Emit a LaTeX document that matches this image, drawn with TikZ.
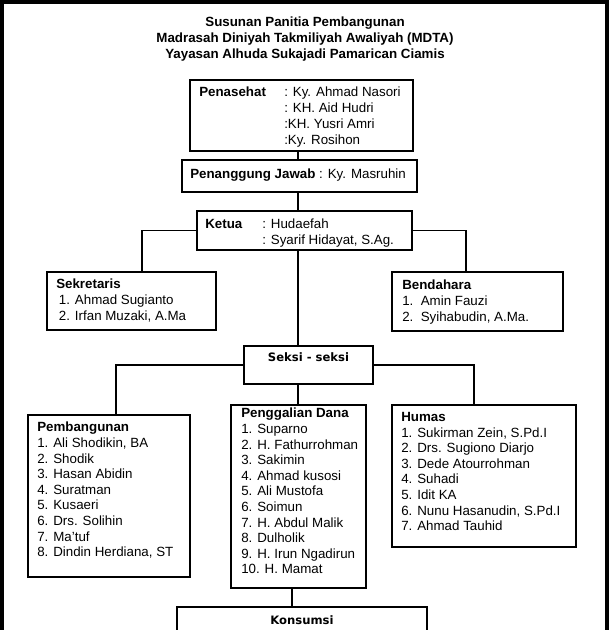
\documentclass[tikz,border=0pt]{standalone}
\usepackage{fontspec}
\setmainfont{Liberation Sans}
\newfontfamily\dvsans{DejaVu Sans}
\usetikzlibrary{fit,calc}
\begin{document}
\begin{tikzpicture}[x=0.75pt,y=-0.75pt,
  box/.style={draw,line width=0.8pt,inner sep=0pt},
  txt/.style={inner sep=0pt,anchor=north west,align=left,font=\fontsize{10}{11.7}\selectfont},
  txtw/.style={inner sep=0pt,anchor=north west,align=left,font=\fontsize{10}{12}\selectfont},
  ttl/.style={inner sep=0pt,anchor=north,align=center,font=\bfseries\fontsize{10}{12}\selectfont},
  dv/.style={inner sep=0pt,font=\dvsans\bfseries\fontsize{8.7}{10}\selectfont},
  conn/.style={line width=0.8pt}]
\useasboundingbox (0,0) rectangle (609,630);
\fill[black] (0,0) rectangle (609,630);
\fill[white] (4,4) rectangle (605,640);

% axis coordinates for connectors
\coordinate (axis) at (298,0);
\coordinate (sekx) at (142,0);
\coordinate (benx) at (466,0);
\coordinate (pembx) at (116,0);
\coordinate (humx) at (474,0);
\coordinate (konx) at (292,0);

% title
\node[ttl] (title) at (305,17) {Susunan Panitia Pembangunan\\Madrasah Diniyah Takmiliyah Awaliyah (MDTA)\\Yayasan Alhuda Sukajadi Pamarican Ciamis};

% boxes
\node[box,fit={(190,80) (413,151)}] (pen) {};
\node[box,fit={(182,160) (417,192)}] (pj) {};
\node[box,fit={(197,211) (412,250)}] (ket) {};
\node[box,fit={(47,272) (216,330)}] (sek) {};
\node[box,fit={(392,272) (563,331)}] (ben) {};
\node[box,fit={(244,346) (373,384)}] (seksi) {};
\node[box,fit={(28,415) (190,577)}] (pemb) {};
\node[box,fit={(231,405) (366,588)}] (pg) {};
\node[box,fit={(392,405) (576,547)}] (hum) {};
\node[box,fit={(177,607) (427,660)}] (kons) {};

% texts
\node[txtw,font=\bfseries\fontsize{10}{12}\selectfont] (penl) at (199,87) {Penasehat};
\node[txtw] (pent) at (284,87) {: Ky. Ahmad Nasori\\: KH. Aid Hudri\\:KH. Yusri Amri\\:Ky. Rosihon};
\node[txtw] (pjt) at (190,169) {\textbf{Penanggung Jawab} : Ky. Masruhin};
\node[txtw,font=\bfseries\fontsize{10}{12}\selectfont] (ketl) at (205,219) {Ketua};
\node[txtw] (kett) at (262,219) {: Hudaefah\\: Syarif Hidayat, S.Ag.};
\node[txtw] (sekt) at (56,279) {\textbf{Sekretaris}\\\hspace*{2pt}1. Ahmad Sugianto\\\hspace*{2pt}2. Irfan Muzaki, A.Ma};
\node[txtw] (bent) at (402,280) {\textbf{Bendahara}\\1.\ \ Amin Fauzi\\2.\ \ Syihabudin, A.Ma.};
\node[dv] (seksit) at (308.5,357) {Seksi - seksi};
\node[txt] (pembt) at (37,422) {\textbf{Pembangunan}\\1. Ali Shodikin, BA\\2. Shodik\\3. Hasan Abidin\\4. Suratman\\5. Kusaeri\\6. Drs. Solihin\\7. Ma'tuf\\8. Dindin Herdiana, ST};
\node[txt] (pgt) at (241,408) {\textbf{Penggalian Dana}\\1. Suparno\\2. H. Fathurrohman\\3. Sakimin\\4. Ahmad kusosi\\5. Ali Mustofa\\6. Soimun\\7. H. Abdul Malik\\8. Dulholik\\9. H. Irun Ngadirun\\10. H. Mamat};
\node[txt] (humt) at (401,412) {\textbf{Humas}\\1. Sukirman Zein, S.Pd.I\\2. Drs. Sugiono Diarjo\\3. Dede Atourrohman\\4. Suhadi\\5. Idit KA\\6. Nunu Hasanudin, S.Pd.I\\7. Ahmad Tauhid};
\node[dv] (konst) at (302,620) {Konsumsi};

% connectors
\draw[conn] (pen.south -| axis) -- (pj.north -| axis);
\draw[conn] (pj.south -| axis) -- (ket.north -| axis);
\draw[conn] (ket.west) -| (sek.north -| sekx);
\draw[conn] (ket.east) -| (ben.north -| benx);
\draw[conn] (ket.south -| axis) -- (seksi.north -| axis);
\draw[conn] (seksi.west) -| (pemb.north -| pembx);
\draw[conn] (seksi.east) -| (hum.north -| humx);
\draw[conn] (seksi.south -| axis) -- (pg.north -| axis);
\draw[conn] (pg.south -| konx) -- (kons.north -| konx);
\end{tikzpicture}
\end{document}
